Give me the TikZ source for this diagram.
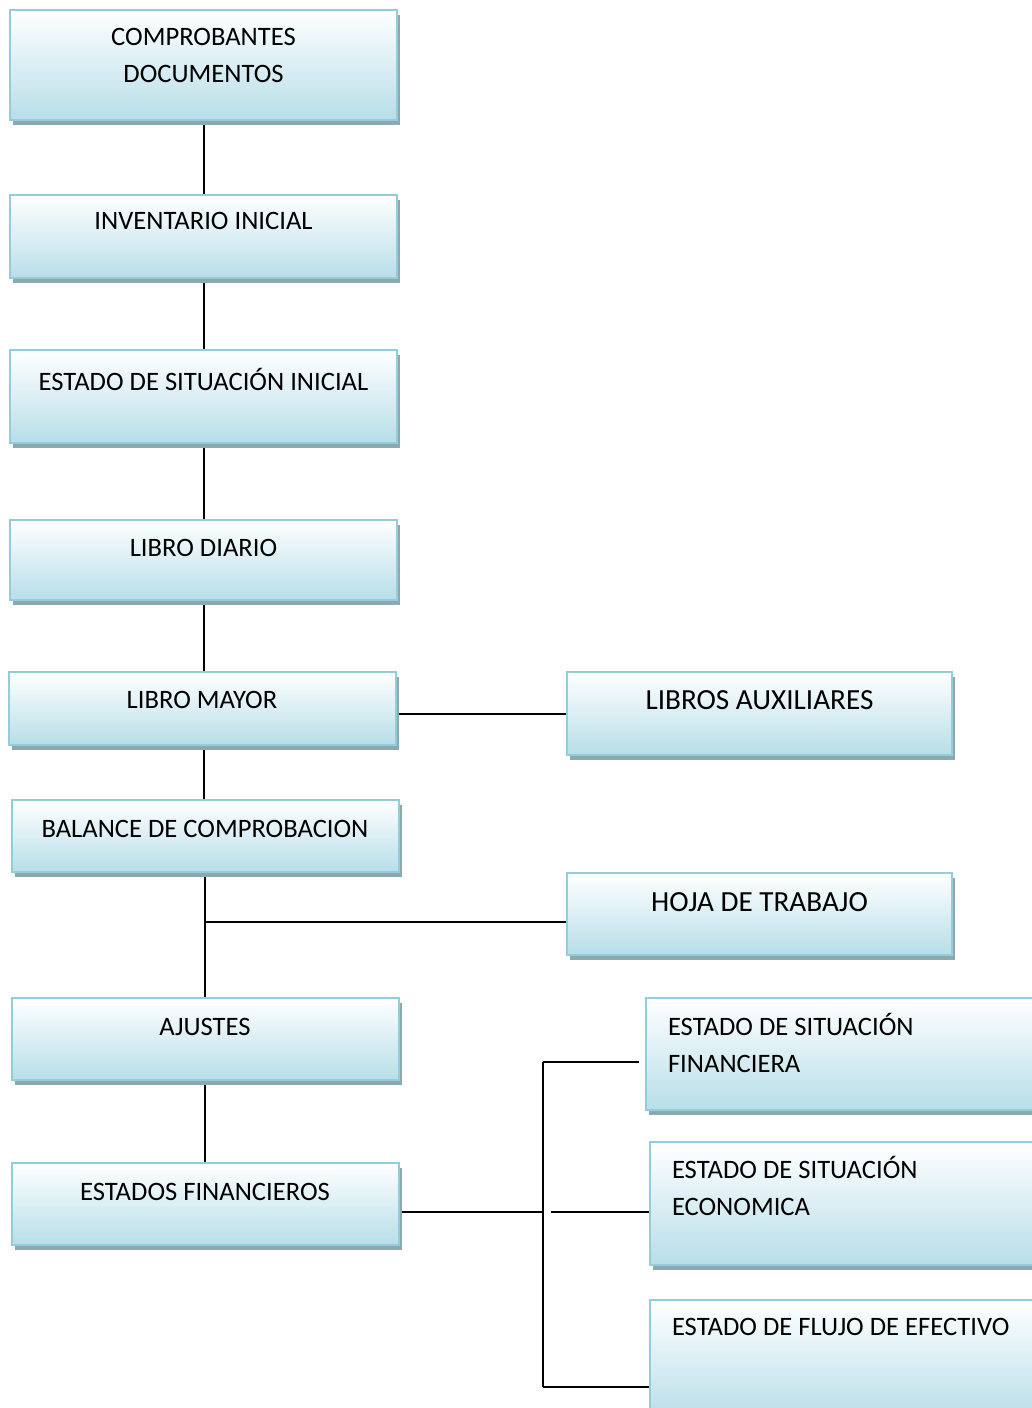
\documentclass[tikz,border=0pt]{standalone}
\usepackage{fontspec}
\setmainfont{Carlito}
\usepackage{tikz}
\usetikzlibrary{shadows,backgrounds}
\definecolor{boxBlue}{RGB}{183,222,232}
\definecolor{boxEdge}{RGB}{146,205,220}
\definecolor{boxShade}{RGB}{143,167,175}

\begin{document}
\begin{tikzpicture}[
  x=0.5pt,y=-0.5pt,
  font=\fontsize{13.3}{18.5}\selectfont,
  stepbox/.style={draw=boxEdge,line width=1pt,top color=white,bottom color=boxBlue,
    drop shadow={shadow xshift=1.5pt,shadow yshift=-2.5pt,fill=boxShade,opacity=1},
    minimum width=193.5pt,inner sep=0pt,align=center},
  sidebox/.style={stepbox,minimum width=192.5pt,font=\fontsize{14.6}{20}\selectfont},
  outbox/.style={stepbox,text width=175pt,inner xsep=11pt,align=flush left},
  link/.style={line width=1pt,black}
]
\useasboundingbox (0,0) rectangle (1032,1408);
\clip (0,0) rectangle (1032,1408);

% main column
\node[stepbox,minimum height=55pt,text depth=9.5pt] (cmp) at (203.5,65) {COMPROBANTES\\DOCUMENTOS};
\node[stepbox,minimum height=41.5pt,text depth=15.5pt] (inv) at (203.5,236.5) {INVENTARIO INICIAL};
\node[stepbox,minimum height=46.5pt,text depth=17.5pt] (esi) at (203.5,396.5) {ESTADO DE SITUACIÓN INICIAL};
\node[stepbox,minimum height=40pt,text depth=12pt] (ldi) at (203.5,560) {LIBRO DIARIO};
\node[stepbox,minimum height=36.5pt,text depth=8.5pt] (lma) at (202,708.5) {LIBRO MAYOR};
\node[stepbox,minimum height=36pt,text depth=7pt] (bal) at (205,836) {BALANCE DE COMPROBACION};
\node[stepbox,minimum height=41pt,text depth=12pt] (aju) at (205,1039) {AJUSTES};
\node[stepbox,minimum height=41pt,text depth=12pt] (efi) at (205,1204) {ESTADOS FINANCIEROS};

% side boxes
\node[sidebox,minimum height=41.5pt,text depth=13.5pt] (lau) at (759.5,713.5) {LIBROS AUXILIARES};
\node[sidebox,minimum height=41pt,text depth=12pt] (hoj) at (759.5,914) {HOJA DE TRABAJO};

% statements
\node[outbox,minimum height=56pt,text depth=30pt] (esf) at (843,1054) {ESTADO DE SITUACIÓN\\FINANCIERA};
\node[outbox,minimum height=61.5pt,text depth=36.5pt] (ese) at (847,1203.5) {ESTADO DE SITUACIÓN\\ECONOMICA};
\node[outbox,minimum height=60pt,text depth=33pt] (efe) at (847,1360) {ESTADO DE FLUJO DE EFECTIVO};

\coordinate (jhoj) at (204,922);
\coordinate (bustop) at (543,1062);
\coordinate (busmid) at (543,1212);
\coordinate (busgap) at (551,1212);
\coordinate (busbot) at (543,1387);

\begin{pgfonlayer}{background}
\foreach \a/\b in {cmp/inv,inv/esi,esi/ldi}{\draw[link] (\a.south) -- (\b.north);}
\draw[link] (ldi.south) -- (ldi.south |- lma.north);
\draw[link] (ldi.south |- lma.south) -- (ldi.south |- bal.north);
\draw[link] (bal.south) -- (aju.north);
\draw[link] (aju.south) -- (efi.north);
\draw[link] (lma.east |- lau.west) -- (lau.west);
\draw[link] (jhoj) -- (jhoj -| hoj.west);
\draw[link] (efi.east |- busmid) -- (busmid);
\draw[link] (bustop) -- (busbot);
\draw[link,shorten >=3pt] (bustop) -- (bustop -| esf.west);
\draw[link] (busgap) -- (busgap -| ese.west);
\draw[link] (busbot) -- (busbot -| efe.west);
\end{pgfonlayer}
\end{tikzpicture}
\end{document}
